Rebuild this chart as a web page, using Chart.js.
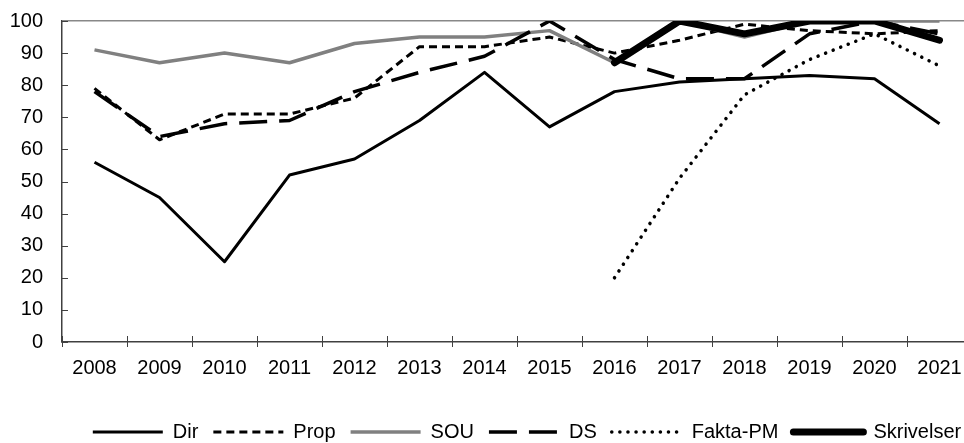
<!DOCTYPE html>
<html>
<head>
<meta charset="utf-8">
<script src="https://cdn.jsdelivr.net/npm/chart.js@4/dist/chart.umd.min.js"></script>
<style>
  html, body { margin: 0; padding: 0; background: #fff; overflow: hidden; }
  #clip { width: 964px; height: 443px; overflow: hidden; position: relative; }
  #wrap { width: 1044px; height: 452px; position: absolute; left: 0; top: 0; }
</style>
</head>
<body>
<div id="clip"><div id="wrap"><canvas id="lineChart"></canvas></div></div>
<script>
// år
const years = ['2008', '2009', '2010', '2011', '2012', '2013', '2014', '2015', '2016', '2017', '2018', '2019', '2020', '2021'];

// andel per dokumenttyp
const dir        = [56, 45, 25, 52, 57, 69, 84, 67, 78, 81, 82, 83, 82, 68];
const prop       = [79, 63, 71, 71, 76, 92, 92, 95, 90, 94, 99, 97, 96, 97];
const sou        = [91, 87, 90, 87, 93, 95, 95, 97, 87, 100, 95, 100, 100, 100];
const ds         = [78, 64, 68, 69, 78, 84, 89, 100, 88, 82, 82, 96, 100, 96];
const faktaPm    = [null, null, null, null, null, null, null, null, 20, 51, 77, 88, 96, 86];
const skrivelser = [null, null, null, null, null, null, null, null, 87, 100, 96, 100, 100, 94];

const yTicks = [0, 10, 20, 30, 40, 50, 60, 70, 80, 90, 100];

const FONT = 'Liberation Sans, Arial, sans-serif';
const AXIS = '#404040';
const CANVAS_W = 1044;
const PLOT_RIGHT = 972;

// tickmarks som i Excel: inåt på y-axeln, korsande på x-axeln
const tickMarks = {
  id: 'tickMarks',
  afterDatasetsDraw(chart) {
    const { ctx, chartArea, scales: { x, y } } = chart;
    ctx.save();
    ctx.strokeStyle = AXIS;
    ctx.lineWidth = 1;
    yTicks.forEach(v => {
      const py = Math.round(y.getPixelForValue(v)) + 0.5;
      ctx.beginPath();
      ctx.moveTo(chartArea.left, py);
      ctx.lineTo(chartArea.left + 6, py);
      ctx.stroke();
    });
    const half = (x.getPixelForValue(1) - x.getPixelForValue(0)) / 2;
    for (let i = 0; i <= years.length; i++) {
      const px = Math.round(x.getPixelForValue(i) - half) + 0.5;
      ctx.beginPath();
      ctx.moveTo(px, chartArea.bottom - 6);
      ctx.lineTo(px, chartArea.bottom + 5);
      ctx.stroke();
    }
    ctx.restore();
  }
};

const ctx = document.getElementById('lineChart').getContext('2d');
const lineChart = new Chart(ctx, {
  type: 'line',
  data: {
    labels: years,
    datasets: [
      { label: 'Dir', data: dir, borderColor: '#000', borderWidth: 3, order: 6 },
      { label: 'Prop', data: prop, borderColor: '#000', borderWidth: 3, borderDash: [8, 5], order: 5 },
      { label: 'SOU', data: sou, borderColor: '#808080', borderWidth: 3.5, order: 4 },
      { label: 'DS', data: ds, borderColor: '#000', borderWidth: 3.5, borderDash: [28, 12], order: 3 },
      { label: 'Fakta-PM', data: faktaPm, borderColor: '#000', borderWidth: 3.5, borderDash: [0.1, 8], borderCapStyle: 'round', order: 2 },
      { label: 'Skrivelser', data: skrivelser, borderColor: '#000', borderWidth: 7, borderCapStyle: 'round', order: 1 }
    ]
  },
  options: {
    responsive: true,
    maintainAspectRatio: false,
    animation: false,
    elements: {
      point: { radius: 0, hoverRadius: 0 },
      line: { tension: 0, borderJoinStyle: 'round' }
    },
    layout: {
      padding: { top: 21, left: 10, right: 0, bottom: 0 }
    },
    scales: {
      x: {
        offset: true,
        grid: { display: false },
        border: { display: true, color: AXIS, width: 1.5 },
        ticks: { color: '#000', font: { family: FONT, size: 20 }, padding: 6, maxRotation: 0, autoSkip: false },
        afterFit: scale => { scale.height = 65; }
      },
      y: {
        min: 0,
        max: 100,
        ticks: { stepSize: 10, color: '#000', font: { family: FONT, size: 20 }, padding: 19 },
        grid: {
          drawTicks: false,
          color: c => (c.tick && c.tick.value === 100 ? '#888888' : 'rgba(0,0,0,0)'),
          lineWidth: 1.5
        },
        border: { display: true, color: AXIS, width: 1.5 },
        afterFit: scale => {
          scale.width = 52;
          scale.paddingTop = 0;
          scale.paddingBottom = 0;
        }
      },
      y2: {
        position: 'right',
        grid: { display: false },
        border: { display: false },
        ticks: { display: false },
        afterFit: scale => { scale.width = CANVAS_W - PLOT_RIGHT; }
      }
    },
    plugins: {
      legend: {
        display: true,
        position: 'bottom',
        labels: {
          usePointStyle: true,
          pointStyle: 'line',
          pointStyleWidth: 70,
          padding: 15,
          color: '#000',
          font: { family: FONT, size: 20 },
          sort: (a, b) => a.datasetIndex - b.datasetIndex,
          generateLabels: chart => {
            const items = Chart.defaults.plugins.legend.labels.generateLabels(chart);
            items.forEach(item => {
              const ds = chart.data.datasets[item.datasetIndex];
              item.lineDash = ds.borderDash || [];
              item.lineCap = ds.borderCapStyle || 'butt';
              item.lineWidth = ds.borderWidth;
              item.strokeStyle = ds.borderColor;
            });
            return items;
          }
        }
      },
      tooltip: { enabled: false }
    }
  },
  plugins: [tickMarks]
});
</script>
</body>
</html>
